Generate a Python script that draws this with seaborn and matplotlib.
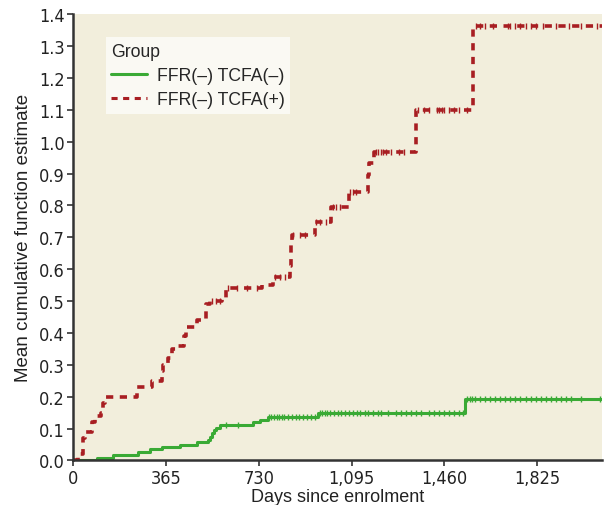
import numpy as np
import pandas as pd
import matplotlib
matplotlib.use("Agg")
import matplotlib.pyplot as plt
import matplotlib.font_manager as fm
import seaborn as sns

# step function data (day of jump, MCF value after jump)
days_neg = [0, 92, 157, 256, 302, 348, 420, 486, 531, 538,
            545, 552, 560, 577, 709, 734, 768, 964, 1540, 2080]
mcf_neg = [0, 0.007, 0.017, 0.026, 0.035, 0.042, 0.048, 0.058, 0.065, 0.075,
           0.085, 0.095, 0.103, 0.112, 0.120, 0.128, 0.136, 0.150, 0.193, 0.193]

days_pos = [0, 17, 39, 44, 72, 85, 109, 118, 125, 249,
            308, 348, 354, 374, 390, 413, 437, 443, 486, 521,
            537, 585, 600, 741, 787, 852, 856, 860, 950, 1016,
            1084, 1160, 1164, 1184, 1350, 1573, 2080]
mcf_pos = [0, 0.02, 0.07, 0.09, 0.12, 0.14, 0.15, 0.18, 0.20, 0.23,
           0.25, 0.28, 0.30, 0.32, 0.35, 0.36, 0.39, 0.42, 0.44, 0.49,
           0.50, 0.51, 0.54, 0.55, 0.575, 0.61, 0.68, 0.707, 0.749, 0.794,
           0.843, 0.895, 0.934, 0.969, 1.098, 1.362, 1.362]

# censoring times
cens_neg = [600, 650, 770, 780, 790, 800, 810, 820, 830, 845, 860, 875, 890,
            905, 920, 935, 950, 970, 980, 990, 1000, 1010, 1025, 1040, 1055,
            1070, 1085, 1100, 1115, 1130, 1150, 1160, 1180, 1200, 1210, 1240,
            1270, 1290, 1310, 1330, 1350, 1370, 1400, 1420, 1440, 1460, 1480,
            1500, 1520, 1535, 1550, 1560, 1570, 1580, 1600, 1620, 1640, 1660,
            1680, 1700, 1720, 1740, 1760, 1780, 1800, 1820, 1840, 1860, 1880,
            1900, 1920, 1940, 1960, 2000, 2075]
cens_pos = [545, 560, 577, 610, 643, 682, 722, 794, 814, 833, 864, 892, 912,
            955, 971, 995, 1022, 1034, 1050, 1088, 1100, 1112, 1190, 1200,
            1210, 1220, 1230, 1250, 1280, 1300, 1357, 1380, 1400, 1430, 1440,
            1450, 1460, 1480, 1500, 1520, 1550, 1585, 1600, 1620, 1650, 1710,
            1720, 1740, 1760, 1780, 1800, 1820, 1850, 1900, 1950, 2000, 2060]

labels = ["FFR(\u2013) TCFA(\u2013)", "FFR(\u2013) TCFA(+)"]
colors = ["#3aaa35", "#a81e22"]

df = pd.concat([
    pd.DataFrame({"day": days_neg, "mcf": mcf_neg, "Group": labels[0]}),
    pd.DataFrame({"day": days_pos, "mcf": mcf_pos, "Group": labels[1]}),
])


def step_value(days, vals, t):
    i = np.searchsorted(days, t, side="right") - 1
    return np.array(vals)[i]


names = {f.name for f in fm.fontManager.ttflist}
if "Liberation Sans Narrow" in names:
    tick_font = dict(family="Liberation Sans Narrow")
else:
    tick_font = dict(family="DejaVu Sans", stretch="condensed")

sns.set_style("ticks")
plt.rcParams["font.family"] = ["Liberation Sans", "DejaVu Sans"]

fig = plt.figure(figsize=(6.06, 5.06), dpi=100)
ax = fig.add_axes([0.121, 0.088, 0.872, 0.882])
ax.set_facecolor("#f2eedc")

sns.lineplot(data=df, x="day", y="mcf", hue="Group", style="Group",
             hue_order=labels, style_order=labels, palette=colors,
             dashes=[(), (2, 1.8)], drawstyle="steps-post", estimator=None,
             linewidth=2.2, ax=ax)
ax.lines[1].set_linewidth(2.6)

ax.scatter(cens_neg, step_value(days_neg, mcf_neg, cens_neg), marker="|",
           s=18, color=colors[0], linewidths=1.0, zorder=3)
ax.scatter(cens_pos, step_value(days_pos, mcf_pos, cens_pos), marker="|",
           s=18, color=colors[1], linewidths=1.0, zorder=3)

ax.set_xlim(0, 2080)
ax.set_ylim(0, 1.4)
xt = [0, 365, 730, 1095, 1460, 1825]
ax.set_xticks(xt)
ax.set_xticklabels([f"{v:,}" for v in xt], fontsize=13, **tick_font)
yt = np.round(np.arange(0, 1.41, 0.1), 1)
ax.set_yticks(yt)
ax.set_yticklabels([f"{v:.1f}" for v in yt], fontsize=13, **tick_font)

ax.set_xlabel("Days since enrolment", fontsize=13, color="#222222", labelpad=1)
ax.set_ylabel("Mean cumulative function estimate", fontsize=13.5,
              color="#222222", labelpad=5)

for side in ["top", "right"]:
    ax.spines[side].set_visible(False)
for side in ["left", "bottom"]:
    ax.spines[side].set_linewidth(1.8)
    ax.spines[side].set_color("#333333")
ax.tick_params(length=4, width=1.2, color="#333333", labelcolor="#222222", pad=2)

leg = ax.legend(title="Group", loc="upper left", bbox_to_anchor=(0.062, 0.948),
                frameon=True, fancybox=False, fontsize=12.7, title_fontsize=12.7,
                handlelength=2.0, handletextpad=0.6, borderpad=0.3,
                labelspacing=0.42, borderaxespad=0)
leg._legend_box.align = "left"
leg.get_frame().set_facecolor("#faf9f3")
leg.get_frame().set_edgecolor("none")
leg.get_frame().set_alpha(1)

fig.savefig("out.png", dpi=100)
